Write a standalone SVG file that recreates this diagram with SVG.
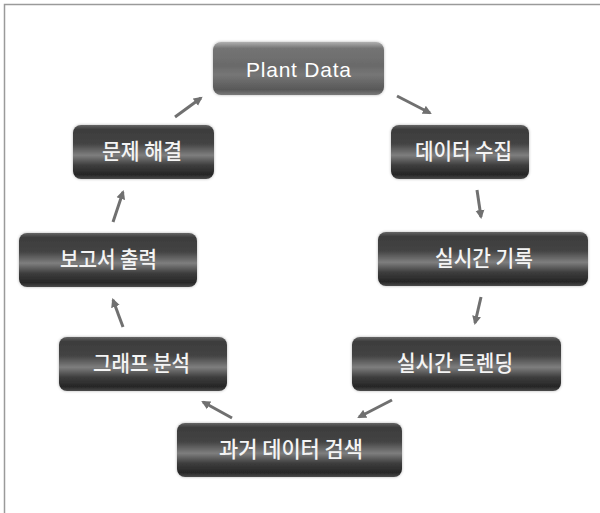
<svg xmlns="http://www.w3.org/2000/svg" width="600" height="513" viewBox="0 0 600 513">
<defs>
<linearGradient id="dark" x1="0" y1="0" x2="0" y2="1">
<stop offset="0" stop-color="#666"/>
<stop offset="0.08" stop-color="#3c3c3c"/>
<stop offset="0.35" stop-color="#444"/>
<stop offset="0.56" stop-color="#7e7e7e"/>
<stop offset="0.75" stop-color="#3c3c3c"/>
<stop offset="0.92" stop-color="#262626"/>
<stop offset="1" stop-color="#4a4a4a"/>
</linearGradient>
<linearGradient id="light" x1="0" y1="0" x2="0" y2="1">
<stop offset="0" stop-color="#b0b0b0"/>
<stop offset="0.12" stop-color="#747474"/>
<stop offset="0.45" stop-color="#6a6a6a"/>
<stop offset="0.62" stop-color="#767676"/>
<stop offset="0.9" stop-color="#585858"/>
<stop offset="1" stop-color="#7a7a7a"/>
</linearGradient>
<filter id="sh" x="-10%" y="-20%" width="120%" height="140%">
<feGaussianBlur in="SourceAlpha" stdDeviation="1.5"/>
<feComponentTransfer><feFuncA type="linear" slope="0.3"/></feComponentTransfer>
<feMerge><feMergeNode/><feMergeNode in="SourceGraphic"/></feMerge>
</filter>
<marker id="ah" markerWidth="10" markerHeight="10" refX="7" refY="5" orient="auto" markerUnits="userSpaceOnUse" viewBox="0 0 10 10">
<path d="M0,0.5 L9,5 L0,9.5 Z" fill="#707070"/>
</marker>
<style>
.box{filter:url(#sh);}
.lbl{font-family:"Noto Sans CJK KR","Liberation Sans",sans-serif;font-size:22px;font-weight:500;fill:#f4f4f4;text-anchor:middle;}
.en{font-family:"Liberation Sans","Noto Sans",sans-serif;font-size:21px;fill:#fff;text-anchor:middle;}
.arr{stroke:#707070;stroke-width:3;fill:none;marker-end:url(#ah);}
</style>
</defs>
<rect x="0" y="0" width="600" height="513" fill="#fff"/>
<rect x="4.5" y="4.5" width="610" height="530" fill="none" stroke="#9a9a9a" stroke-width="1.5"/>
<g id="connectors">
<line class="arr" x1="397" y1="96" x2="430" y2="113"/>
<line class="arr" x1="477" y1="190" x2="481" y2="217"/>
<line class="arr" x1="481" y1="297" x2="475" y2="323"/>
<line class="arr" x1="392" y1="400" x2="359" y2="417"/>
<line class="arr" x1="232" y1="418" x2="203" y2="402"/>
<line class="arr" x1="123" y1="327" x2="113" y2="300"/>
<line class="arr" x1="113" y1="222" x2="123" y2="192"/>
<line class="arr" x1="175" y1="117" x2="201" y2="98"/>
</g>
<g id="plant-data"><rect class="box" x="213" y="42" width="171" height="53" rx="8" fill="url(#light)"/><text class="en" x="298.5" y="77" textLength="105" lengthAdjust="spacing">Plant Data</text></g>
<g id="data-collect"><rect class="box" x="391" y="125" width="138" height="54" rx="8" fill="url(#dark)"/><text class="lbl" x="463.5" y="159" textLength="97" lengthAdjust="spacingAndGlyphs">데이터 수집</text></g>
<g id="realtime-record"><rect class="box" x="378" y="232" width="210" height="54" rx="8" fill="url(#dark)"/><text class="lbl" x="484" y="266" textLength="98" lengthAdjust="spacingAndGlyphs">실시간 기록</text></g>
<g id="realtime-trend"><rect class="box" x="352" y="337" width="209" height="54" rx="8" fill="url(#dark)"/><text class="lbl" x="455" y="371" textLength="116" lengthAdjust="spacingAndGlyphs">실시간 트렌딩</text></g>
<g id="history-search"><rect class="box" x="177" y="423" width="225" height="54" rx="8" fill="url(#dark)"/><text class="lbl" x="291" y="457" textLength="144" lengthAdjust="spacingAndGlyphs">과거 데이터 검색</text></g>
<g id="graph-analysis"><rect class="box" x="59" y="337" width="168" height="54" rx="8" fill="url(#dark)"/><text class="lbl" x="141.5" y="371" textLength="97" lengthAdjust="spacingAndGlyphs">그래프 분석</text></g>
<g id="report-output"><rect class="box" x="19" y="233" width="178" height="54" rx="8" fill="url(#dark)"/><text class="lbl" x="108.5" y="267" textLength="97" lengthAdjust="spacingAndGlyphs">보고서 출력</text></g>
<g id="problem-solve"><rect class="box" x="73" y="125" width="141" height="54" rx="8" fill="url(#dark)"/><text class="lbl" x="142" y="159" textLength="80" lengthAdjust="spacingAndGlyphs">문제 해결</text></g>
</svg>
